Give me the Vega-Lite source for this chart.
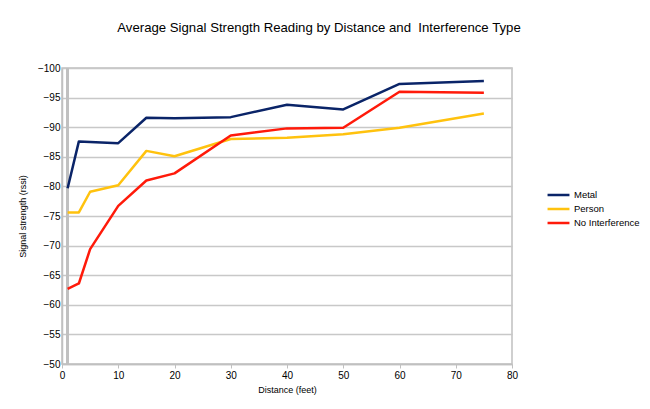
{
  "$schema": "https://vega.github.io/schema/vega-lite/v6.json",
  "width": 450,
  "height": 296,
  "autosize": "none",
  "padding": {"left": 62, "top": 68, "right": 138, "bottom": 45},
  "background": "white",
  "title": {
    "text": "Average Signal Strength Reading by Distance and \u00a0Interference Type",
    "font": "Liberation Sans",
    "fontSize": 13.2,
    "fontWeight": "normal",
    "color": "#000000",
    "anchor": "middle",
    "offset": 28,
    "dx": 32
  },
  "config": {
    "view": {"stroke": "#c0c0c0", "strokeWidth": 1.5},
    "font": "Liberation Sans"
  },
  "data": {
    "values": [
      {"d": 1, "s": -79.7, "t": "Metal"},
      {"d": 3, "s": -87.6, "t": "Metal"},
      {"d": 5, "s": -87.5, "t": "Metal"},
      {"d": 10, "s": -87.3, "t": "Metal"},
      {"d": 15, "s": -91.6, "t": "Metal"},
      {"d": 20, "s": -91.5, "t": "Metal"},
      {"d": 30, "s": -91.7, "t": "Metal"},
      {"d": 40, "s": -93.8, "t": "Metal"},
      {"d": 50, "s": -93.0, "t": "Metal"},
      {"d": 60, "s": -97.3, "t": "Metal"},
      {"d": 75, "s": -97.8, "t": "Metal"},
      {"d": 1, "s": -75.6, "t": "Person"},
      {"d": 3, "s": -75.6, "t": "Person"},
      {"d": 5, "s": -79.1, "t": "Person"},
      {"d": 10, "s": -80.2, "t": "Person"},
      {"d": 15, "s": -86.0, "t": "Person"},
      {"d": 20, "s": -85.1, "t": "Person"},
      {"d": 30, "s": -88.0, "t": "Person"},
      {"d": 40, "s": -88.2, "t": "Person"},
      {"d": 50, "s": -88.8, "t": "Person"},
      {"d": 60, "s": -89.9, "t": "Person"},
      {"d": 75, "s": -92.3, "t": "Person"},
      {"d": 1, "s": -62.7, "t": "No Interference"},
      {"d": 3, "s": -63.6, "t": "No Interference"},
      {"d": 5, "s": -69.4, "t": "No Interference"},
      {"d": 10, "s": -76.7, "t": "No Interference"},
      {"d": 15, "s": -81.0, "t": "No Interference"},
      {"d": 20, "s": -82.2, "t": "No Interference"},
      {"d": 30, "s": -88.6, "t": "No Interference"},
      {"d": 40, "s": -89.8, "t": "No Interference"},
      {"d": 50, "s": -89.9, "t": "No Interference"},
      {"d": 60, "s": -96.0, "t": "No Interference"},
      {"d": 75, "s": -95.8, "t": "No Interference"}
    ]
  },
  "layer": [
    {
      "mark": {"type": "rule", "color": "#c0c0c0", "strokeWidth": 1.5},
      "encoding": {"x": {"datum": 1, "type": "quantitative"}}
    },
    {
      "mark": {"type": "line", "strokeWidth": 2.5, "strokeJoin": "round"},
      "encoding": {
        "x": {
          "field": "d",
          "type": "quantitative",
          "scale": {"domain": [0, 80], "nice": false, "zero": false},
          "axis": {
            "title": "Distance (feet)",
            "titleFont": "Liberation Sans",
            "titleFontSize": 9,
            "titleFontWeight": "normal",
            "titleColor": "#000",
            "titlePadding": 5,
            "values": [0, 10, 20, 30, 40, 50, 60, 70, 80],
            "labelFontSize": 10,
            "labelColor": "#000",
            "labelPadding": 2,
            "grid": false,
            "domainColor": "#c0c0c0",
            "domainWidth": 1.5,
            "tickColor": "#c0c0c0",
            "tickSize": 4,
            "labelFlush": false
          }
        },
        "y": {
          "field": "s",
          "type": "quantitative",
          "scale": {"domain": [-100, -50], "reverse": true, "nice": false, "zero": false},
          "axis": {
            "title": "Signal strength (rssi)",
            "titleFont": "Liberation Sans",
            "titleFontSize": 9,
            "titleFontWeight": "normal",
            "titleColor": "#000",
            "titlePadding": 10,
            "values": [-100, -95, -90, -85, -80, -75, -70, -65, -60, -55, -50],
            "format": "d",
            "labelFontSize": 10,
            "labelColor": "#000",
            "labelPadding": 2,
            "grid": true,
            "gridColor": "#c8c8c8",
            "gridWidth": 1.5,
            "domainColor": "#c0c0c0",
            "domainWidth": 1.5,
            "tickColor": "#c0c0c0",
            "tickSize": 0
          }
        },
        "color": {
          "field": "t",
          "type": "nominal",
          "scale": {
            "domain": ["Metal", "Person", "No Interference"],
            "range": ["#0a2468", "#ffc20e", "#ff1a0a"]
          },
          "legend": {
            "title": null,
            "orient": "none",
            "legendX": 484,
            "legendY": 121,
            "symbolType": "stroke",
            "symbolStrokeWidth": 2.5,
            "symbolSize": 480,
            "labelFontSize": 9.5,
            "labelColor": "#000",
            "labelOffset": 3,
            "clipHeight": 12,
            "rowPadding": 2
          }
        }
      }
    }
  ]
}
